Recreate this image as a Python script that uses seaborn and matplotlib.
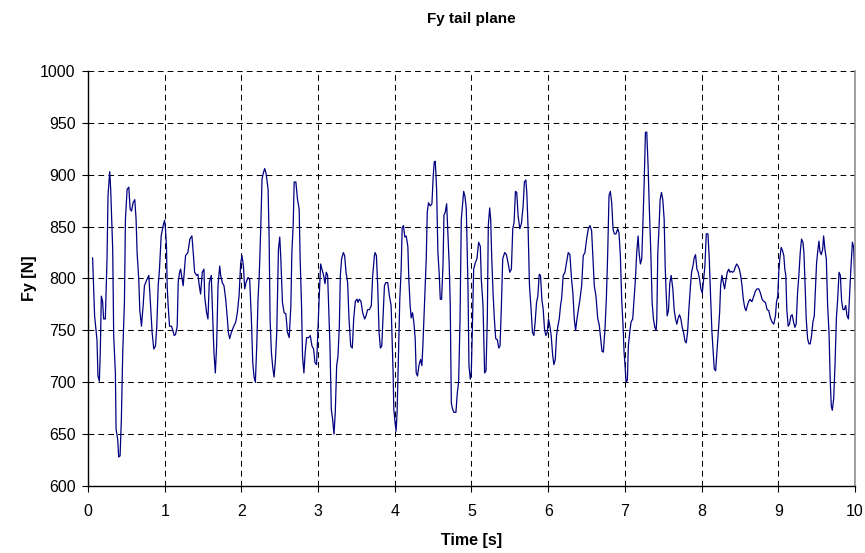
import numpy as np
import pandas as pd
import matplotlib
matplotlib.use("Agg")
import matplotlib.pyplot as plt
import seaborn as sns

title = "Fy tail plane"
x_label = "Time [s]"
y_label = "Fy [N]"
x_ticks = [0, 1, 2, 3, 4, 5, 6, 7, 8, 9, 10]
y_ticks = [600, 650, 700, 750, 800, 850, 900, 950, 1000]

time_s = [
    0.06, 0.086, 0.117, 0.13, 0.148, 0.16, 0.174, 0.19, 0.204, 0.226, 0.248, 0.261, 0.283, 0.296, 0.322, 0.335,
    0.357, 0.366, 0.387, 0.40, 0.418, 0.435, 0.453, 0.475, 0.488, 0.51, 0.532, 0.549, 0.567, 0.588, 0.61, 0.627,
    0.64, 0.662, 0.675, 0.697, 0.719, 0.736, 0.762, 0.793, 0.815, 0.836, 0.858, 0.88, 0.897, 0.915, 0.932, 0.954,
    0.98, 0.998, 1.01, 1.023, 1.032, 1.045, 1.063, 1.089, 1.106, 1.124, 1.141, 1.163, 1.176, 1.194,
    1.207, 1.241, 1.272, 1.302, 1.328, 1.355, 1.372, 1.39, 1.416, 1.433, 1.451, 1.468, 1.49, 1.512, 1.521, 1.546,
    1.564, 1.581, 1.607, 1.625, 1.642, 1.66, 1.677, 1.695, 1.717, 1.73, 1.751, 1.773, 1.795, 1.817, 1.83, 1.847,
    1.869, 1.895, 1.926, 1.947, 1.969, 1.991, 2.008, 2.026, 2.043, 2.06, 2.086, 2.108, 2.13, 2.148, 2.165, 2.182,
    2.2, 2.217, 2.234, 2.252, 2.269, 2.287, 2.304, 2.322, 2.348, 2.361, 2.374, 2.391, 2.409, 2.426, 2.444, 2.461,
    2.483, 2.5, 2.514, 2.535, 2.557, 2.579, 2.601, 2.623, 2.645, 2.658, 2.675, 2.688, 2.71, 2.732, 2.753, 2.766,
    2.784, 2.797, 2.815, 2.832, 2.85, 2.876, 2.898, 2.92, 2.941, 2.959, 2.98, 2.998, 3.015, 3.033, 3.05, 3.072,
    3.09, 3.107, 3.124, 3.137, 3.155, 3.172, 3.19, 3.207, 3.224, 3.242, 3.259, 3.277, 3.29, 3.307, 3.329, 3.346,
    3.364, 3.385, 3.403, 3.425, 3.446, 3.464, 3.485, 3.507, 3.52, 3.538, 3.559, 3.581, 3.607, 3.625, 3.646, 3.668,
    3.694,
    3.712, 3.734, 3.743, 3.76, 3.777, 3.795, 3.812, 3.83, 3.847, 3.865, 3.882, 3.908, 3.93, 3.952, 3.965, 3.978,
    3.987, 4.004, 4.017, 4.03, 4.048, 4.065, 4.083, 4.096, 4.113, 4.13, 4.148, 4.17, 4.183, 4.2, 4.214, 4.231,
    4.248, 4.266, 4.279, 4.296, 4.314, 4.336, 4.353, 4.366, 4.388, 4.41, 4.423, 4.44, 4.462, 4.484, 4.501, 4.514,
    4.528, 4.545, 4.562, 4.58, 4.593, 4.61, 4.628, 4.641, 4.658, 4.676, 4.693, 4.71, 4.723, 4.737, 4.754, 4.771,
    4.797, 4.815, 4.832, 4.85, 4.867, 4.885, 4.898, 4.915, 4.932,
    4.954, 4.967, 4.984, 4.997, 5.01, 5.028, 5.049, 5.071, 5.093, 5.115, 5.128, 5.15, 5.171, 5.189, 5.206, 5.219,
    5.237, 5.25, 5.263, 5.281, 5.298, 5.316, 5.337, 5.355, 5.372, 5.39, 5.407, 5.433, 5.455, 5.477, 5.499, 5.52,
    5.538, 5.555, 5.573, 5.59, 5.608, 5.63, 5.651, 5.673, 5.69, 5.708, 5.721, 5.738, 5.756, 5.778, 5.795, 5.813,
    5.83, 5.848, 5.865, 5.883, 5.9, 5.917, 5.935, 5.952, 5.97, 5.987, 6.004, 6.022, 6.039, 6.057, 6.074, 6.092,
    6.109, 6.126, 6.144, 6.161,
    6.174, 6.196, 6.218, 6.239, 6.261, 6.283, 6.305, 6.322, 6.34, 6.357, 6.375, 6.392, 6.414, 6.436, 6.457, 6.479,
    6.501, 6.523, 6.545, 6.566, 6.584, 6.601, 6.623, 6.645, 6.666, 6.684, 6.701, 6.719, 6.74, 6.758, 6.775, 6.793,
    6.81, 6.828, 6.845, 6.862, 6.884, 6.906, 6.923, 6.941, 6.958, 6.976, 6.989, 7.002, 7.015, 7.032, 7.045, 7.063,
    7.08, 7.102, 7.119, 7.137, 7.154, 7.172, 7.185, 7.202, 7.22, 7.233, 7.25, 7.268, 7.285, 7.302, 7.32, 7.338,
    7.355, 7.372, 7.39, 7.407,
    7.416, 7.429, 7.446, 7.459, 7.477, 7.494, 7.512, 7.525, 7.538, 7.551, 7.568, 7.586, 7.603, 7.625, 7.642, 7.66,
    7.677, 7.695, 7.712, 7.73, 7.747, 7.765, 7.782, 7.8, 7.817, 7.834, 7.852, 7.869, 7.887, 7.904, 7.921, 7.939,
    7.956, 7.974, 7.991, 8.009, 8.026, 8.043, 8.061, 8.083, 8.1, 8.117, 8.135, 8.152, 8.165, 8.183, 8.2, 8.217,
    8.235, 8.248, 8.265, 8.283, 8.3, 8.318, 8.335, 8.353, 8.37, 8.387, 8.405, 8.422, 8.44, 8.457, 8.475, 8.492,
    8.509, 8.527, 8.544, 8.562, 8.579, 8.597, 8.614, 8.632, 8.649,
    8.658, 8.68, 8.702, 8.723, 8.745, 8.767, 8.789, 8.81, 8.832, 8.854, 8.876, 8.897, 8.919, 8.941, 8.963, 8.976,
    8.993, 9.006, 9.02, 9.037, 9.054, 9.072, 9.085, 9.098, 9.111, 9.129, 9.146, 9.164, 9.181, 9.199, 9.216, 9.233,
    9.251, 9.268, 9.286, 9.303, 9.321, 9.334, 9.347, 9.364, 9.382, 9.399, 9.416, 9.434, 9.451, 9.469, 9.482, 9.499,
    9.517, 9.53, 9.543, 9.56, 9.578, 9.591, 9.608, 9.626, 9.643, 9.661, 9.678, 9.691, 9.704, 9.722, 9.739, 9.757,
    9.774, 9.792, 9.809, 9.826, 9.844, 9.861, 9.879, 9.896, 9.914, 9.931, 9.948, 9.966, 9.983, 10.0,
]

force_n = [
    820, 764, 741, 706, 701, 729, 783, 778, 761, 761, 819, 880, 903, 886, 828, 745,
    709, 655, 645, 628, 629, 664, 729, 777, 857, 886, 888, 867, 865, 873, 876, 857,
    825, 799, 770, 754, 774, 793, 798, 803, 774, 748, 732, 735, 754, 793, 809, 841,
    851, 856, 848, 831, 793, 774, 754, 754, 750, 745, 746, 754, 796, 806,
    809, 793, 822, 825, 838, 841, 825, 806, 803, 804, 793, 785, 806, 809, 783, 767,
    761, 796, 803, 764, 729, 709, 735, 793, 812, 803, 796, 793, 780, 761, 748, 742,
    748, 753, 758, 767, 783, 815, 822, 812, 790, 796, 801, 799, 761, 719, 705, 700,
    735, 780, 806, 848, 896, 902, 906, 901, 886, 841, 761, 729, 714, 705, 722, 748,
    828, 840, 819, 777, 767, 766, 748, 743, 774, 825, 851, 893, 893, 876, 867, 819,
    774, 725, 709, 729, 743, 743, 745, 735, 732, 719, 717, 751, 783, 814, 809, 803,
    795, 806, 803, 774, 735, 674, 664, 650, 671, 716, 725, 754, 803, 819, 825, 822,
    806, 796, 761, 735, 733, 761, 778, 780, 777, 780, 778, 767, 761, 764, 770, 770,
    774,
    803, 822, 825, 822, 793, 748, 733, 735, 764, 793, 796, 796, 783, 774, 741, 709,
    674, 661, 653, 671, 729, 780, 809, 849, 851, 840, 841, 831, 799, 774, 762, 767,
    758, 742, 709, 706, 716, 722, 716, 735, 777, 819, 864, 873, 870, 872, 899, 912,
    913, 886, 825, 803, 780, 780, 812, 861, 864, 872, 841, 812, 774, 680, 674, 671,
    671, 690, 700, 758, 857, 872, 884, 879, 867,
    793, 716, 703, 709, 748, 809, 815, 819, 835, 831, 799, 774, 709, 711, 761, 851,
    868, 857, 822, 786, 761, 742, 741, 733, 735, 774, 819, 825, 823, 815, 806, 809,
    848, 854, 884, 883, 860, 848, 853, 870, 893, 895, 883, 848, 793, 769, 748, 745,
    758, 777, 783, 804, 803, 780, 770, 751, 745, 748, 761, 754, 745, 727, 717, 722,
    745, 754, 761, 774,
    780, 803, 806, 815, 825, 823, 799, 786, 761, 750, 761, 769, 780, 793, 822, 825,
    838, 848, 851, 846, 819, 793, 783, 762, 755, 742, 730, 729, 751, 780, 822, 880,
    884, 873, 848, 843, 843, 848, 844, 822, 780, 754, 729, 716, 700, 702, 735, 748,
    758, 761, 780, 799, 825, 841, 825, 814, 819, 848, 889, 941, 941, 909, 864, 825,
    777, 761, 753, 750,
    761, 825, 851, 876, 883, 876, 857, 812, 786, 764, 769, 796, 803, 790, 770, 761,
    756, 762, 765, 761, 753, 748, 740, 738, 748, 770, 790, 806, 812, 820, 823, 809,
    806, 799, 790, 786, 799, 812, 843, 843, 819, 783, 748, 729, 713, 711, 729, 748,
    767, 793, 803, 796, 790, 799, 806, 809, 806, 807, 806, 807, 811, 814, 812, 809,
    803, 793, 780, 772, 769, 774, 778, 780, 778,
    778, 783, 788, 790, 790, 786, 780, 778, 777, 770, 769, 762, 758, 756, 764, 777,
    783, 806, 819, 830, 827, 822, 809, 803, 770, 754, 756, 764, 765, 758, 753, 756,
    786, 803, 825, 838, 835, 825, 799, 761, 742, 737, 737, 745, 758, 764, 786, 815,
    828, 836, 826, 823, 828, 841, 828, 819, 774, 748, 700, 677, 673, 684, 716, 761,
    780, 806, 803, 778, 770, 770, 774, 764, 761, 786, 812, 835, 830, 790,
]

df = pd.DataFrame({"time": time_s, "force": force_n})

sns.set_theme(style="white")
plt.rcParams["font.family"] = ["Liberation Sans", "DejaVu Sans"]

fig = plt.figure(figsize=(8.65, 5.53), dpi=100)
ax = fig.add_axes([88 / 865, 1 - 486 / 553, (855 - 88) / 865, (486 - 71) / 553])

sns.lineplot(data=df, x="time", y="force", ax=ax, color="#000080", linewidth=0.9,
             estimator=None, sort=False)

ax.set_xlim(0, 10)
ax.set_ylim(600, 1000)
ax.set_xticks(x_ticks)
ax.set_yticks(y_ticks)
ax.set_xticklabels([str(v) for v in x_ticks], fontsize=11.5)
ax.set_yticklabels([str(v) for v in y_ticks], fontsize=11.5)
ax.tick_params(axis="both", direction="out", length=4, width=0.8, color="black",
               bottom=True, left=True, labelcolor="black")
ax.tick_params(axis="x", pad=9)
ax.tick_params(axis="y", pad=5)

ax.grid(True, color="black", linestyle=(0, (5.5, 4)), linewidth=0.75)
ax.set_axisbelow(True)

for side in ["left", "bottom"]:
    ax.spines[side].set_color("black")
    ax.spines[side].set_linewidth(1.0)
ax.spines["top"].set_visible(False)
ax.spines["right"].set_color("#909090")
ax.spines["right"].set_linewidth(1.2)

ax.set_xlabel(x_label, fontsize=11.5, fontweight="bold", labelpad=10, color="black")
ax.set_ylabel(y_label, fontsize=11.5, fontweight="bold", labelpad=2, color="black")

fig.text(471 / 865, 1 - 19 / 553, title, ha="center", va="center",
         fontsize=11, fontweight="bold", color="black")

fig.savefig("out.png", dpi=100, facecolor="white")
